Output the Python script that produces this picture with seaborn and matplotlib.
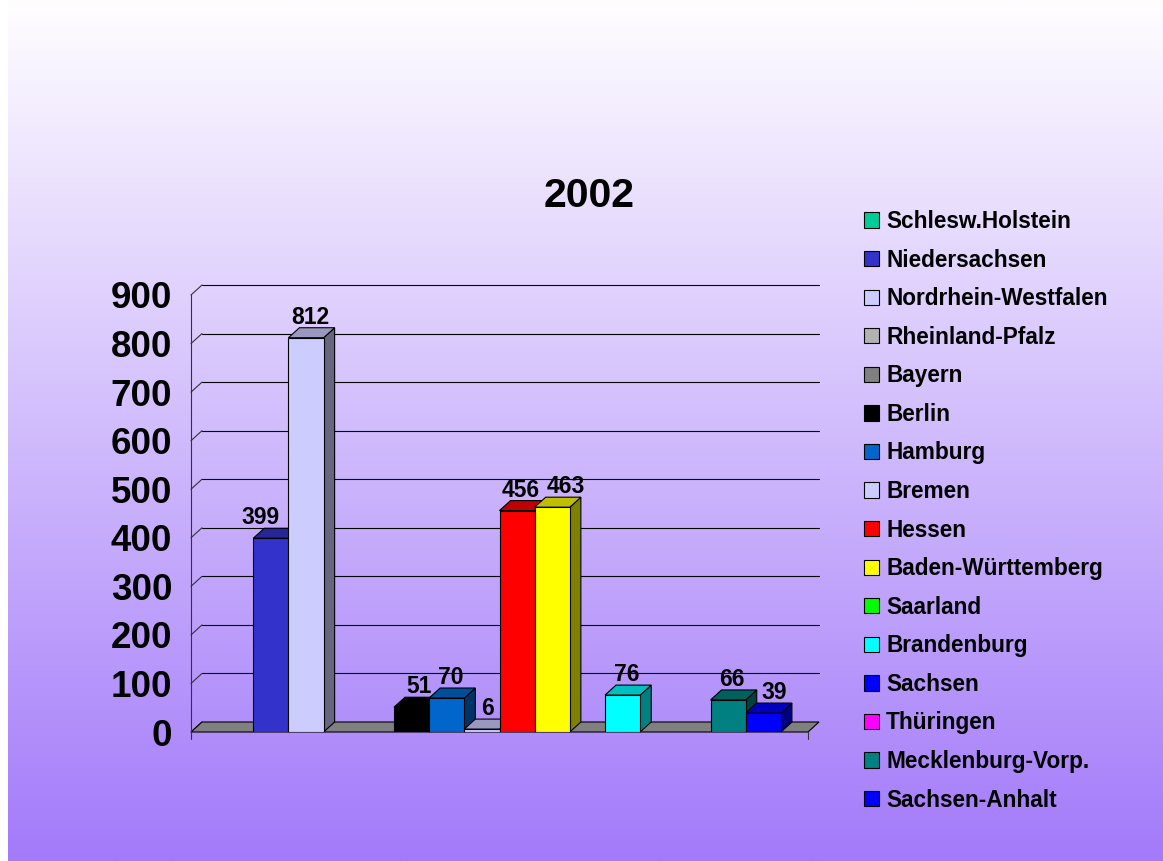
import numpy as np
import pandas as pd
import matplotlib
matplotlib.use("Agg")
import matplotlib.pyplot as plt
import matplotlib.colors as mcolors
from matplotlib.patches import Polygon, Patch, Rectangle
from matplotlib.lines import Line2D
import seaborn as sns

# ---------------- data ----------------
states = ["Schlesw.Holstein", "Niedersachsen", "Nordrhein-Westfalen", "Rheinland-Pfalz",
          "Bayern", "Berlin", "Hamburg", "Bremen", "Hessen", "Baden-Württemberg",
          "Saarland", "Brandenburg", "Sachsen", "Thüringen", "Mecklenburg-Vorp.",
          "Sachsen-Anhalt"]
values = [np.nan, 399, 812, np.nan, np.nan, 51, 70, 6, 456, 463,
          np.nan, 76, np.nan, np.nan, 66, 39]
colors = ["#00CC99", "#3333CC", "#CCCCFF", "#B2B2B2", "#808080", "#000000",
          "#0066CC", "#CCCCFF", "#FF0000", "#FFFF00", "#00FF00", "#00FFFF",
          "#0000FF", "#FF00FF", "#008080", "#0000FF"]
yticks = [0, 100, 200, 300, 400, 500, 600, 700, 800, 900]
title = "2002"

# label nudges (pixels, horizontal) that mimic the original's overlap avoidance
label_nudge = {"Niedersachsen": -10, "Baden-Württemberg": 14,
               "Sachsen-Anhalt": 10.5, "Berlin": 7, "Bremen": 6}

# ---------------- style ----------------
sns.set_style("white")
plt.rcParams["font.family"] = ["Liberation Sans", "DejaVu Sans"]
plt.rcParams["font.weight"] = "bold"
plt.rcParams["text.color"] = "black"
plt.rcParams["ytick.color"] = "black"
plt.rcParams["ytick.labelcolor"] = "black"

W, H = 1163, 861
fig = plt.figure(figsize=(W / 100, H / 100), dpi=100)

# background gradient
bg = fig.add_axes([0, 0, 1, 1], zorder=-10)
g = np.linspace(0, 1, 400)[:, None, None]
top_c = np.array([255, 254, 255]) / 255
bot_c = np.array([163, 122, 250]) / 255
img = top_c * (1 - g) + bot_c * g
img = np.repeat(img, 2, axis=1)
bg.imshow(img, aspect="auto", extent=[0, 1, 0, 1], origin="upper")
bg.add_patch(Rectangle((0, 0), 8 / W, 1, color="white", lw=0))
bg.set_xlim(0, 1)
bg.set_ylim(0, 1)
bg.axis("off")

# main (front-plane) axes
L, R, B, T = 191, 808, 732, 295
ax = fig.add_axes([L / W, 1 - B / H, (R - L) / W, (B - T) / H])
ax.patch.set_alpha(0)

df = pd.DataFrame({"state": states, "value": values})
sns.barplot(data=df, x="state", y="value", hue="state", order=states,
            hue_order=states, palette=dict(zip(states, colors)), width=1.0,
            saturation=1, edgecolor="black", linewidth=0.8, legend=False,
            ax=ax, zorder=3)

xl, xr = -0.5 - 0.77, 15.5 + 0.77
ax.set_xlim(xl, xr)
ax.set_ylim(0, 900)
ax.set_xticks([])
ax.set_xlabel("")
ax.set_ylabel("")
ax.set_yticks(yticks)
ax.set_yticklabels([str(v) for v in yticks], fontsize=26.5, fontweight="bold",
                   color="black")
ax.tick_params(axis="y", length=6.5, width=0.8, direction="out", pad=7,
               color="#333333", labelcolor="black")
for s in ["top", "right", "bottom"]:
    ax.spines[s].set_visible(False)
ax.spines["left"].set_bounds(0, 900)
ax.spines["left"].set_linewidth(0.8)
ax.spines["left"].set_color("#333333")

# depth offsets in data units
p0 = ax.transData.transform((0, 0))
p1 = ax.transData.transform((1, 1))
sx, sy = p1[0] - p0[0], p1[1] - p0[1]
DX, DY = 11, 10
ddx, ddy = DX / sx, DY / sy

# floor
ax.add_patch(Polygon([(xl, 0), (xr, 0), (xr + ddx, ddy), (xl + ddx, ddy)],
                     closed=True, facecolor="#808080", edgecolor="black",
                     lw=0.8, zorder=1.5, clip_on=False))
# back grid lines and left-wall diagonals
for v in yticks:
    if v > 0:
        ax.add_line(Line2D([xl + ddx, xr + ddx], [v + ddy, v + ddy], color="black",
                           lw=0.8, zorder=1, clip_on=False))
    ax.add_line(Line2D([xl, xl + ddx], [v, v + ddy], color="#333333", lw=0.8,
                       zorder=1, clip_on=False))
# small end ticks below the floor
ext = 7 / sy
ax.add_line(Line2D([xl, xl], [0, -ext], color="#333333", lw=0.8, clip_on=False))
ax.add_line(Line2D([xr, xr], [0, -ext], color="#333333", lw=0.8, clip_on=False))


def shade(c, f):
    return tuple(np.clip(np.array(mcolors.to_rgb(c)) * f, 0, 1))


for p in list(ax.patches):
    if not isinstance(p, Rectangle):
        continue
    h = p.get_height()
    if not np.isfinite(h) or p.get_zorder() != 3:
        continue
    x0 = p.get_x()
    x1 = x0 + p.get_width()
    cx = (x0 + x1) / 2
    name = states[int(round(cx))]
    fc = p.get_facecolor()
    side = Polygon([(x1, 0), (x1 + ddx, ddy), (x1 + ddx, h + ddy), (x1, h)],
                   closed=True, facecolor=shade(fc, 0.5), edgecolor="black",
                   lw=0.8, zorder=2.4, clip_on=False)
    topf = Polygon([(x0, h), (x1, h), (x1 + ddx, h + ddy), (x0 + ddx, h + ddy)],
                   closed=True, facecolor=shade(fc, 0.75), edgecolor="black",
                   lw=0.8, zorder=2.6, clip_on=False)
    ax.add_patch(side)
    ax.add_patch(topf)
    ax.annotate(f"{h:.0f}", xy=(cx, h),
                xytext=(label_nudge.get(name, 4), DY + 4),
                textcoords="offset pixels", ha="center", va="baseline",
                fontsize=16.5, fontweight="bold", color="black", zorder=5,
                annotation_clip=False)

# title
fig.text(589 / W, 1 - 207 / H, title, ha="center", va="baseline",
         fontsize=29.5, fontweight="bold", color="black")

# legend
handles = [Patch(facecolor=c, edgecolor="black", lw=0.8) for c in colors]
leg = ax.legend(handles=handles, labels=states, loc="upper left",
                bbox_to_anchor=(864 / W, 1 - 210 / H), bbox_transform=fig.transFigure,
                frameon=False, prop={"weight": "bold", "size": 16.25},
                handlelength=0.665, handleheight=0.665, handletextpad=0.31,
                labelspacing=0.69, borderpad=0, borderaxespad=0)
for t in leg.get_texts():
    t.set_color("black")

fig.savefig("out.png", dpi=100)
